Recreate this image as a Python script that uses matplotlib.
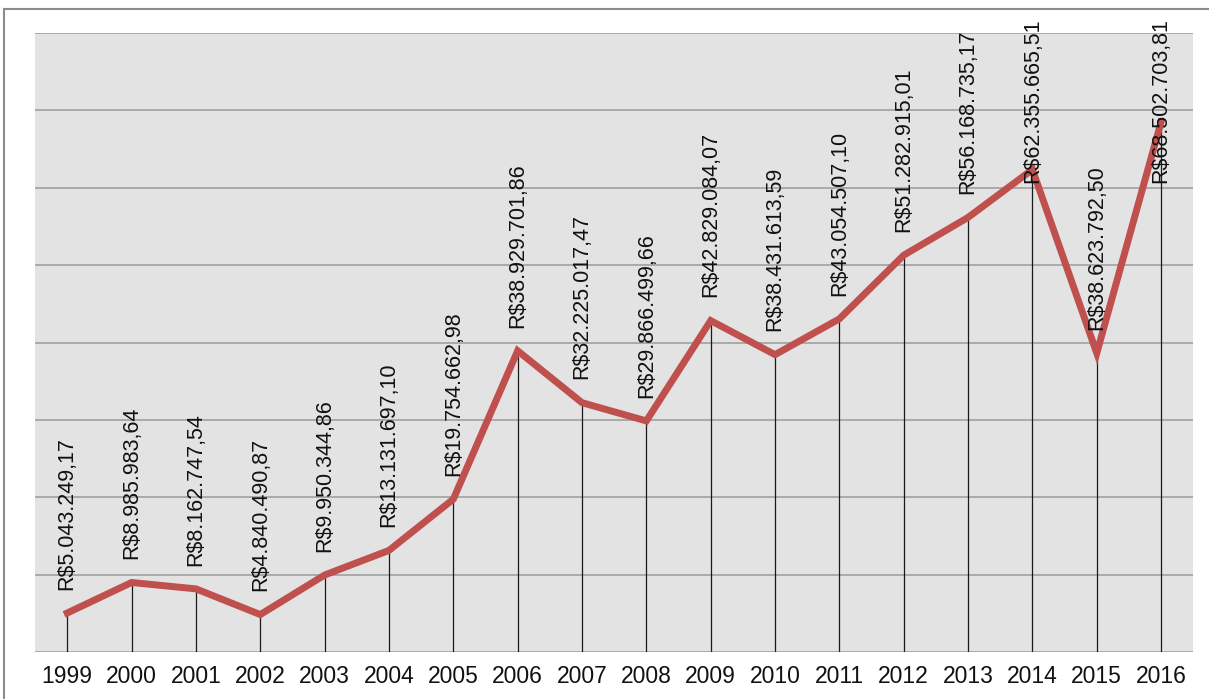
import matplotlib
matplotlib.use('Agg')
import matplotlib.pyplot as plt
from matplotlib import font_manager
from matplotlib.lines import Line2D
import numpy as np

plt.rcParams['font.family'] = ['Liberation Sans', 'DejaVu Sans']

anos = ['1999', '2000', '2001', '2002', '2003', '2004', '2005', '2006', '2007',
        '2008', '2009', '2010', '2011', '2012', '2013', '2014', '2015', '2016']
valores = [5043249.17, 8985983.64, 8162747.54, 4840490.87, 9950344.86,
           13131697.10, 19754662.98, 38929701.86, 32225017.47, 29866499.66,
           42829084.07, 38431613.59, 43054507.10, 51282915.01, 56168735.17,
           62355665.51, 38623792.50, 68502703.81]

nomes = {f.name for f in font_manager.fontManager.ttflist}
fonte_rotulo = 'Liberation Sans Narrow' if 'Liberation Sans Narrow' in nomes else 'Liberation Sans'
tam_rotulo = 18.5 if fonte_rotulo == 'Liberation Sans Narrow' else 15.5


def reais(v):
    s = f'{v:,.2f}'
    s = s.replace(',', 'X').replace('.', ',').replace('X', '.')
    return 'R$' + s


x = np.arange(len(anos))
y = np.array(valores) / 1e6

fig = plt.figure(figsize=(12.09, 6.99), dpi=100)
ax = fig.add_axes([0.029, 0.0672, 0.958, 0.8856])
ax.set_facecolor('#E3E3E3')

ax.set_xlim(-0.5, len(anos) - 0.5)
ax.set_ylim(0, 80)
ax.set_yticks(np.arange(0, 81, 10))
ax.yaxis.grid(True, color='#9A9A9A', linewidth=1.1)
ax.set_axisbelow(True)
ax.tick_params(axis='y', left=False, labelleft=False)
ax.tick_params(axis='x', length=0, pad=9, labelsize=16.5, labelcolor='#111111')
ax.set_xticks(x)
ax.set_xticklabels(anos)
for s in ax.spines.values():
    s.set_visible(False)

# linhas de queda de cada ponto até a base
ax.vlines(x, 0, y, color='#1A1A1A', linewidth=0.9, zorder=2)
ax.plot(x, y, color='#C0504D', linewidth=5, solid_joinstyle='miter', zorder=3)

for xi, yi, v in zip(x, y, valores):
    ybase = min(yi + 3.0, 60.6)
    ax.text(xi, ybase, reais(v), rotation=90, ha='center', va='bottom',
            fontsize=tam_rotulo, family=[fonte_rotulo, 'DejaVu Sans'],
            color='#111111', zorder=4)

# moldura da figura
fig.add_artist(Line2D([4 / 1209, 4 / 1209], [0, 1 - 9 / 699], color='#8C8C8C',
                      linewidth=1.5, transform=fig.transFigure))
fig.add_artist(Line2D([4 / 1209, 1], [1 - 9 / 699, 1 - 9 / 699], color='#8C8C8C',
                      linewidth=1.5, transform=fig.transFigure))

fig.savefig('out.png', dpi=100)
